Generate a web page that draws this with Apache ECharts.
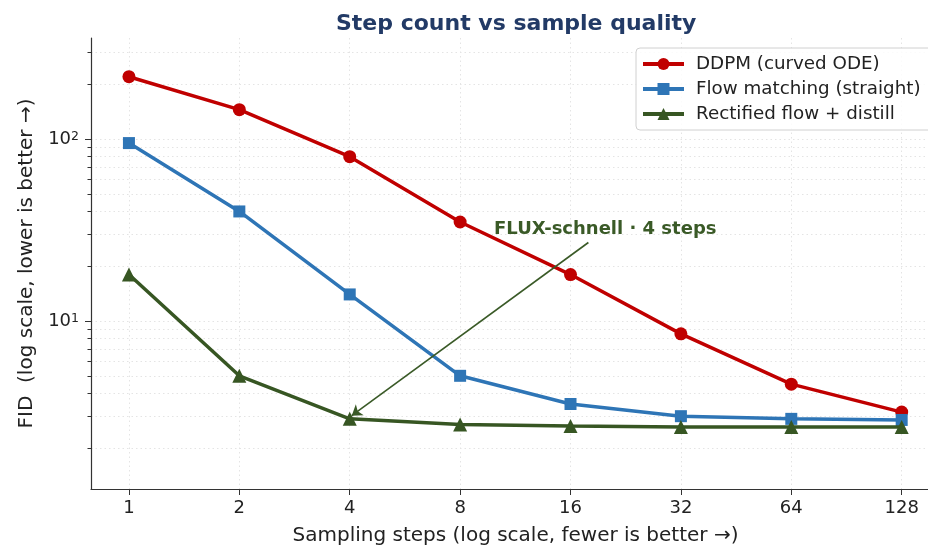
<!DOCTYPE html>
<html>
<head>
<meta charset="utf-8">
<script src="https://cdn.jsdelivr.net/npm/echarts@6/dist/echarts.min.js"></script>
<style>
  html, body { margin: 0; padding: 0; background: #fff; }
  #chart { width: 928px; height: 545px; }
</style>
</head>
<body>
<div id="chart"></div>
<script>
  // data
  var steps = [1, 2, 4, 8, 16, 32, 64, 128];
  var ddpm = [220, 145, 80, 35, 18, 8.5, 4.5, 3.16];
  var flow = [95, 40, 14, 5.0, 3.5, 3.0, 2.9, 2.86];
  var rectified = [18, 5.0, 2.9, 2.7, 2.65, 2.62, 2.62, 2.62];
  var yMajor = [10, 100];
  var yMinor = [2, 3, 4, 5, 6, 7, 8, 9, 20, 30, 40, 50, 60, 70, 80, 90, 200, 300];
  var yGrid = yMinor.concat(yMajor);
  var noteText = 'FLUX-schnell · 4 steps';
  var noteAt = [19.9, 32];
  var arrowFrom = [17.9, 27];
  var arrowTo = [4.05, 3.02];

  var gridLine = { show: true, lineStyle: { color: '#e4e4e4', type: [1.5, 3], width: 1 } };

  function pairs(vals) {
    return steps.map(function (s, i) { return [s, vals[i]]; });
  }

  var chart = echarts.init(document.getElementById('chart'));
  chart.setOption({
    animation: false,
    textStyle: { fontFamily: 'DejaVu Sans' },
    title: {
      text: 'Step count vs sample quality',
      left: 331,
      top: 8,
      textStyle: { fontSize: 22, fontWeight: 'bold', color: '#223a66', fontFamily: 'DejaVu Sans' }
    },
    legend: {
      orient: 'vertical',
      left: 636,
      top: 48,
      itemWidth: 41,
      itemHeight: 15,
      itemGap: 7,
      padding: [7, 12, 7, 5],
      backgroundColor: 'rgba(255,255,255,0.85)',
      borderColor: '#d0d0d0',
      borderWidth: 1,
      borderRadius: 4,
      lineStyle: { width: 4 },
      textStyle: { fontSize: 18.3, color: '#222', padding: [0, 0, 0, 7] }
    },
    grid: { left: 91, right: 0, top: 38, bottom: 56, outerBoundsMode: 'none' },
    xAxis: {
      type: 'log',
      logBase: 2,
      min: 0.788,
      max: 151,
      name: 'Sampling steps (log scale, fewer is better →)',
      nameLocation: 'middle',
      nameGap: 37,
      nameTextStyle: { fontSize: 20, color: '#222', padding: [0, 0, 0, 12] },
      axisLine: { lineStyle: { color: '#333', width: 1.2 } },
      axisTick: { customValues: steps, length: 6, lineStyle: { color: '#333' } },
      axisLabel: { customValues: steps, fontSize: 18, color: '#222', margin: 10 },
      splitLine: gridLine
    },
    yAxis: [{
      type: 'log',
      logBase: 10,
      min: 1.194,
      max: 359,
      name: 'FID  (log scale, lower is better →)',
      nameLocation: 'middle',
      nameGap: 44,
      nameTextStyle: { fontSize: 20, color: '#222' },
      axisLine: { show: true, lineStyle: { color: '#333', width: 1.2 } },
      axisTick: { customValues: yMajor, length: 6, lineStyle: { color: '#333' } },
      axisLabel: {
        customValues: yMajor,
        margin: 12,
        formatter: function (v) {
          return '{b|10}{s|' + Math.round(Math.log10(v)) + '}';
        },
        rich: {
          b: { fontSize: 18, color: '#222' },
          s: { fontSize: 12.5, color: '#222', verticalAlign: 'top' }
        }
      },
      splitLine: { show: false }
    }, {
      type: 'log',
      logBase: 10,
      min: 1.194,
      max: 359,
      position: 'left',
      axisLine: { show: false },
      axisTick: { show: true, customValues: yGrid, length: 3.5, lineStyle: { color: '#333' } },
      axisLabel: { show: false },
      splitLine: gridLine
    }],
    series: [{
      name: 'DDPM (curved ODE)',
      type: 'line',
      data: pairs(ddpm),
      symbol: 'circle',
      symbolSize: 13,
      color: '#c00000',
      lineStyle: { width: 3.5 },
      z: 3
    }, {
      name: 'Flow matching (straight)',
      type: 'line',
      data: pairs(flow),
      symbol: 'rect',
      symbolSize: 12,
      color: '#2e75b6',
      lineStyle: { width: 3.5 },
      z: 4
    }, {
      name: 'Rectified flow + distill',
      type: 'line',
      data: pairs(rectified),
      symbol: 'triangle',
      symbolSize: 14,
      color: '#375623',
      lineStyle: { width: 3.5 },
      z: 5,
      markLine: {
        silent: true,
        symbol: ['none', 'arrow'],
        symbolSize: 10,
        label: { show: false },
        lineStyle: { color: '#3a5a27', width: 1.6, type: 'solid' },
        itemStyle: { color: '#3a5a27' },
        data: [[{ coord: arrowFrom }, { coord: arrowTo }]]
      },
      markPoint: {
        silent: true,
        symbol: 'circle',
        symbolSize: 0,
        label: {
          show: true,
          position: 'inside',
          formatter: noteText,
          fontSize: 18,
          fontWeight: 'bold',
          color: '#3a5a27'
        },
        data: [{ coord: noteAt }]
      }
    }]
  });
</script>
</body>
</html>
